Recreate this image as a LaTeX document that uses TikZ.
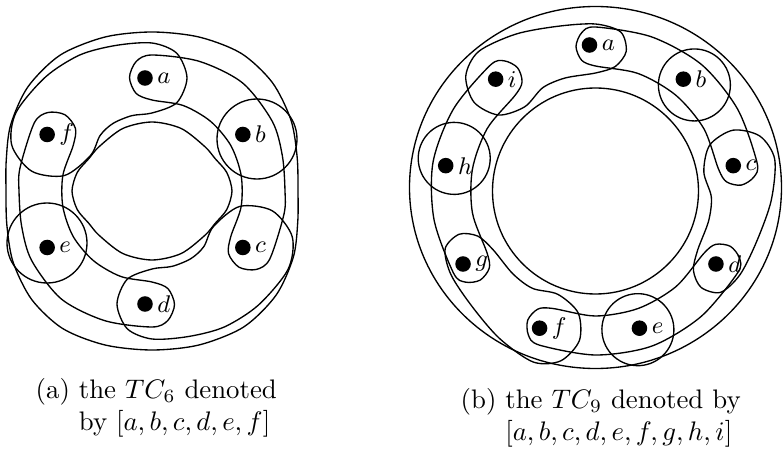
\documentclass[tikz,border=0pt]{standalone}
\usepackage{amsmath}
\usetikzlibrary{calc, positioning}

\tikzset{
  pt/.style={circle, fill, inner sep=0pt, minimum size=5.8pt},
  lbl/.style={anchor=west, inner sep=0pt, xshift=1.2pt, font=\small},
  capt/.style={align=left, anchor=north west, inner sep=0pt},
}

\begin{document}
\begin{tikzpicture}[x=0.373pt, y=0.373pt, line width=0.5pt]
  \useasboundingbox (0,0) rectangle (783,460);

  % (a) the TC_6
  \begin{scope}[shift={(152,269)}]
    % outermost and innermost
    \draw plot[smooth cycle] coordinates {(0:146) (13:149) (27:156) (42:162) (57:164) (73:161) (90:159) (107:161) (124:164) (140:162) (155:156) (168:149) (180:146) (193:149) (207:156) (222:162) (237:164) (253:161) (270:159) (287:161) (304:164) (320:162) (335:156) (348:149)};
    \draw plot[smooth cycle] coordinates {(0:80) (14:77) (27:71) (40:69) (65:69) (90:69) (115:69) (140:69) (153:71) (166:77) (180:80) (194:77) (207:71) (220:69) (245:69) (270:69) (295:69) (320:69) (333:71) (346:77)};
    % long bands
    \foreach \r in {0,180}
      \draw[rotate=\r] plot[smooth cycle] coordinates {(90:136) ($(90:113.5)+(135:22.5)$) ($(90:113.5)+(180:22.5)$) ($(90:113.5)+(225:22.5)$) (90:91) (70:91) (50:91) (30:91) (10:90.5) (-10:90.5) ($(-30:113.5)+(150:22.5)$) ($(-30:113.5)+(195:22.5)$) ($(-30:113.5)+(240:22.5)$) ($(-30:113.5)+(285:22.5)$) ($(-30:113.5)+(330:22.5)$) (-10:134) (0:133) (15:135) (30:139) (50:141) (70:138)};
    % short bands
    \foreach \r in {0,180}
      \draw[rotate=\r] plot[smooth cycle] coordinates {(90:148) ($(90:113)+(45:35)$) ($(90:113)+(0:35)$) ($(90:113)+(-45:35)$) (90:78) (105:78) (120:78) (133:76) ($(150:114)+(330:43)$) ($(150:114)+(285:43)$) ($(150:114)+(240:43)$) ($(150:114)+(195:43)$) ($(150:114)+(150:43)$) (133:156) (118:154) (104:150)};
    % single loops
    \draw (105,52) circle (40);
    \draw (-105,-52) circle (40);
    % points
    \node[pt] (a) at ($(90:113)+(-7,0)$) {};
    \node[pt] (b) at ($(30:113)+(-7,0)$) {};
    \node[pt] (c) at ($(-30:113)+(-7,0)$) {};
    \node[pt] (d) at ($(-90:113)+(-7,0)$) {};
    \node[pt] (e) at ($(210:113)+(-7,0)$) {};
    \node[pt] (f) at ($(150:113)+(-7,0)$) {};
    \node[lbl] (la) at (a.east) {$a$};
    \node[lbl] (lb) at (b.east) {$b$};
    \node[lbl] (lc) at (c.east) {$c$};
    \node[lbl] (ld) at (d.east) {$d$};
    \node[lbl] (le) at (e.east) {$e$};
    \node[lbl] (lf) at (f.east) {$f$};
  \end{scope}

  % (b) the TC_9
  \begin{scope}[shift={(595.5,269)}]
    % outermost and innermost
    \draw (0,3.5) ellipse (186 and 181);
    \draw (0,0) circle (103);
    % long bands
    \foreach \r in {0,-120,-240}
      \draw[rotate=\r] plot[smooth cycle] coordinates {(90:164) ($(90:144.5)+(135:19.5)$) ($(90:144.5)+(180:19.5)$) ($(90:144.5)+(225:19.5)$) (90:125) (70:125) (50:125) (30:125) ($(10:144.5)+(190:19.5)$) ($(10:144.5)+(235:19.5)$) ($(10:144.5)+(280:19.5)$) ($(10:144.5)+(325:19.5)$) ($(10:144.5)+(10:19.5)$) (30:164) (50:165) (70:164)};
    % short bands
    \foreach \r in {0,-120,-240}
      \draw[rotate=\r] plot[smooth cycle] coordinates {(90:167) (81:161) (77.6:143) (81:126) (90:118) (105:117) (117:116) ($(130:146)+(310:36)$) ($(130:146)+(265:36)$) ($(130:146)+(220:36)$) ($(130:146)+(175:36)$) ($(130:146)+(130:36)$) (117:176) (103:169)};
    % single loops
    \foreach \r in {0,-120,-240}
      \draw[rotate=\r] (47:145) circle (36);
    % points
    \node[pt] (a) at ($(90:146)+(-6,0)$) {};
    \node[pt] (b) at ($(50:146)+(-6,0)$) {};
    \node[pt] (c) at ($(10:146)+(-6,0)$) {};
    \node[pt] (d) at ($(-30:146)+(-6,0)$) {};
    \node[pt] (e) at ($(-70:146)+(-6,0)$) {};
    \node[pt] (f) at ($(-110:146)+(-6,0)$) {};
    \node[pt] (g) at ($(-150:146)+(-6,0)$) {};
    \node[pt] (h) at ($(170:146)+(-6,0)$) {};
    \node[pt] (i) at ($(130:146)+(-6,0)$) {};
    \node[lbl] (la) at (a.east) {$a$};
    \node[lbl] (lb) at (b.east) {$b$};
    \node[lbl] (lc) at (c.east) {$c$};
    \node[lbl] (ld) at (d.east) {$d$};
    \node[lbl] (le) at (e.east) {$e$};
    \node[lbl] (lf) at (f.east) {$f$};
    \node[lbl] (lg) at (g.east) {$g$};
    \node[lbl] (lh) at (h.east) {$h$};
    \node[lbl] (li) at (i.east) {$i$};
  \end{scope}

  % captions
  \node[capt] (capa) at (35,82) {(a) the $TC_6$ denoted\\\phantom{(a) }by $[a,b,c,d,e,f]$};
  \node[capt] (capb) at (460,72) {(b) the $TC_9$ denoted by\\\phantom{(b) }$[a,b,c,d,e,f,g,h,i]$};
\end{tikzpicture}
\end{document}
